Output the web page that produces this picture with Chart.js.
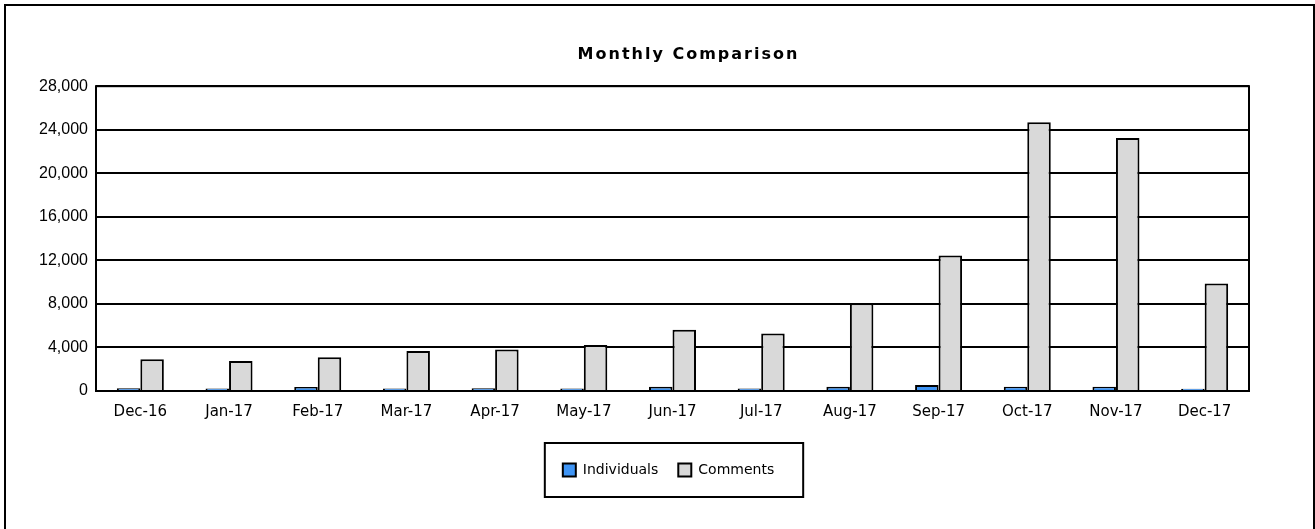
<!DOCTYPE html>
<html>
<head>
<meta charset="utf-8">
<script src="https://cdn.jsdelivr.net/npm/chart.js@4/dist/chart.umd.min.js"></script>
<style>
    html, body { margin: 0; padding: 0; background: #fff; overflow: hidden; }
    #frame { position: absolute; left: 4px; top: 4px; width: 1307px; height: 540px; border: 2px solid #000; background: #fff; }
    canvas { display: block; }
</style>
</head>
<body>
<div id="frame"><canvas id="chart" width="1307" height="530"></canvas></div>
<script>
const months = ["Dec-16", "Jan-17", "Feb-17", "Mar-17", "Apr-17", "May-17", "Jun-17",
    "Jul-17", "Aug-17", "Sep-17", "Oct-17", "Nov-17", "Dec-17"];
const individuals = [250, 230, 370, 240, 250, 230, 380, 240, 380, 560, 400, 400, 210];
const comments = [2920, 2750, 3090, 3670, 3820, 4220, 5620, 5290, 8070, 12450, 24680, 23240, 9880];
const yTicks = [0, 4000, 8000, 12000, 16000, 20000, 24000, 28000];

// box around the legend, sized from the legend's own hit boxes
const legendFrame = {
    id: "legendFrame",
    afterDraw(chart) {
        const boxes = chart.legend.legendHitBoxes;
        if (!boxes || !boxes.length) return;
        const left = Math.min(...boxes.map(b => b.left));
        const right = Math.max(...boxes.map(b => b.left + b.width));
        const mid = boxes[0].top + boxes[0].height / 2;
        const ctx = chart.ctx;
        ctx.save();
        ctx.strokeStyle = "#000";
        ctx.lineWidth = 2;
        ctx.strokeRect(left - 18, mid - 27, right - left + 47, 54);
        ctx.restore();
    }
};

// plot area outline
const plotFrame = {
    id: "plotFrame",
    beforeDatasetsDraw(chart) {
        const a = chart.chartArea;
        const ctx = chart.ctx;
        ctx.save();
        ctx.strokeStyle = "#000";
        ctx.lineWidth = 2;
        ctx.strokeRect(a.left, a.top, a.right - a.left, a.bottom - a.top);
        ctx.restore();
    }
};

const chart = new Chart(document.getElementById("chart").getContext("2d"), {
    type: "bar",
    data: {
        labels: months,
        datasets: [
            { label: "Individuals", data: individuals, backgroundColor: "#3f95f5", borderColor: "#000", borderWidth: 2 },
            { label: "Comments", data: comments, backgroundColor: "#d9d9d9", borderColor: "#000", borderWidth: 2 }
        ]
    },
    options: {
        responsive: false,
        animation: false,
        events: [],
        layout: { padding: { left: 18, right: 0, top: 0, bottom: 49 } },
        datasets: { bar: { categoryPercentage: 0.53, barPercentage: 1 } },
        plugins: {
            title: {
                display: true,
                text: "Monthly Comparison",
                color: "#000",
                font: { family: "DejaVu Sans", size: 16, weight: "bold" },
                padding: { top: 39, bottom: 22 }
            },
            legend: {
                position: "bottom",
                labels: {
                    color: "#000",
                    font: { family: "DejaVu Sans", size: 14 },
                    boxWidth: 13,
                    boxHeight: 13,
                    padding: 20
                }
            },
            tooltip: { enabled: false }
        },
        scales: {
            x: {
                grid: { display: false, drawTicks: false },
                border: { display: false },
                ticks: { color: "#000", font: { family: "DejaVu Sans", size: 15 }, padding: 12, maxRotation: 0 },
                afterFit(s) { s.height = 52; }
            },
            y: {
                min: 0,
                max: 28000,
                afterBuildTicks(s) { s.ticks = yTicks.map(v => ({ value: v })); },
                grid: { color: "#000", lineWidth: 2, drawTicks: false },
                border: { display: false },
                ticks: {
                    color: "#000",
                    font: { family: "Liberation Sans", size: 16 },
                    padding: 8,
                    callback: v => v.toLocaleString("en-US")
                },
                afterFit(s) { s.width = 72; }
            },
            // empty right-hand margin beside the plot
            yRight: {
                position: "right",
                min: 0,
                max: 28000,
                grid: { display: false, drawTicks: false },
                border: { display: false },
                ticks: { display: false },
                afterFit(s) { s.width = 64; }
            }
        }
    },
    plugins: [plotFrame, legendFrame]
});

// spaced-out title, nudged to sit where the original one does
const titleDraw = chart.titleBlock.draw;
chart.titleBlock.draw = function () {
    const ctx = this.ctx;
    ctx.save();
    ctx.letterSpacing = "2px";
    ctx.translate(20, 0);
    titleDraw.apply(this, arguments);
    ctx.restore();
};
chart.draw();
</script>
</body>
</html>
